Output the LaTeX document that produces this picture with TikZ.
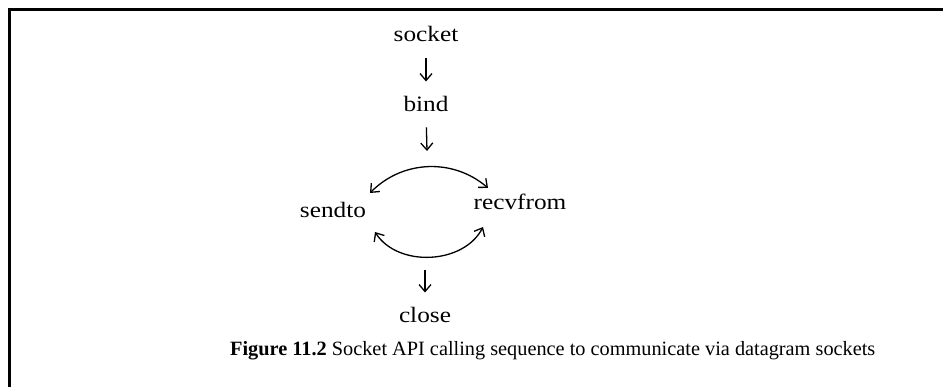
\documentclass[tikz,border=0pt]{standalone}
\usepackage{fontspec}
\setmainfont{Liberation Serif}
\newfontfamily\lblfont{Liberation Serif}[FakeStretch=1.15]
\usetikzlibrary{arrows.meta}

\tikzset{
  head/.tip={Straight Barb[length=7pt,width=12pt,line width=1.3pt]},
  call/.style={font=\lblfont\fontsize{22}{24}\selectfont, inner sep=0pt, anchor=base},
  flow/.style={line width=1.3pt, -head},
  swap/.style={line width=1.3pt, head-head},
  frame/.style={line width=3pt}
}

\begin{document}
\begin{tikzpicture}[x=1pt, y=-1pt]
  \useasboundingbox (0,0) rectangle (943,387);

  % open frame: rule across the top and down the left side
  \draw[frame] (9,387) -- (9,9.5) -- (943,9.5);

  % calls
  \node[call] (socket)   at (426,42)  {socket};
  \node[call] (bind)     at (426,112) {bind};
  \node[call] (sendto)   at (333,218) {sendto};
  \node[call] (recvfrom) at (520,210) {recvfrom};
  \node[call] (close)    at (425,323) {close};

  % ends of the exchange loop
  \coordinate (fork)  at (427,151);
  \coordinate (join)  at (425,270);
  \coordinate (upL)   at (370,193);
  \coordinate (upR)   at (488,188);
  \coordinate (loL)   at (375,232);
  \coordinate (loR)   at (483,227);

  % sequence
  \draw[flow, shorten <=16pt, shorten >=15pt] (socket.south) -- (bind.north);
  \draw[flow, shorten <=15pt] (bind.south) -- (fork);
  \draw[swap] (upL) to[bend left=43] (upR);
  \draw[swap] (loL) to[bend right=60] (loR);
  \draw[flow, shorten >=15pt] (join) -- (close.north);

  % caption
  \node[anchor=base west, inner sep=0pt, font=\fontsize{20.3}{22}\selectfont] (caption) at (230,356)
    {\textbf{Figure 11.2} Socket API calling sequence to communicate via datagram sockets};
\end{tikzpicture}
\end{document}
